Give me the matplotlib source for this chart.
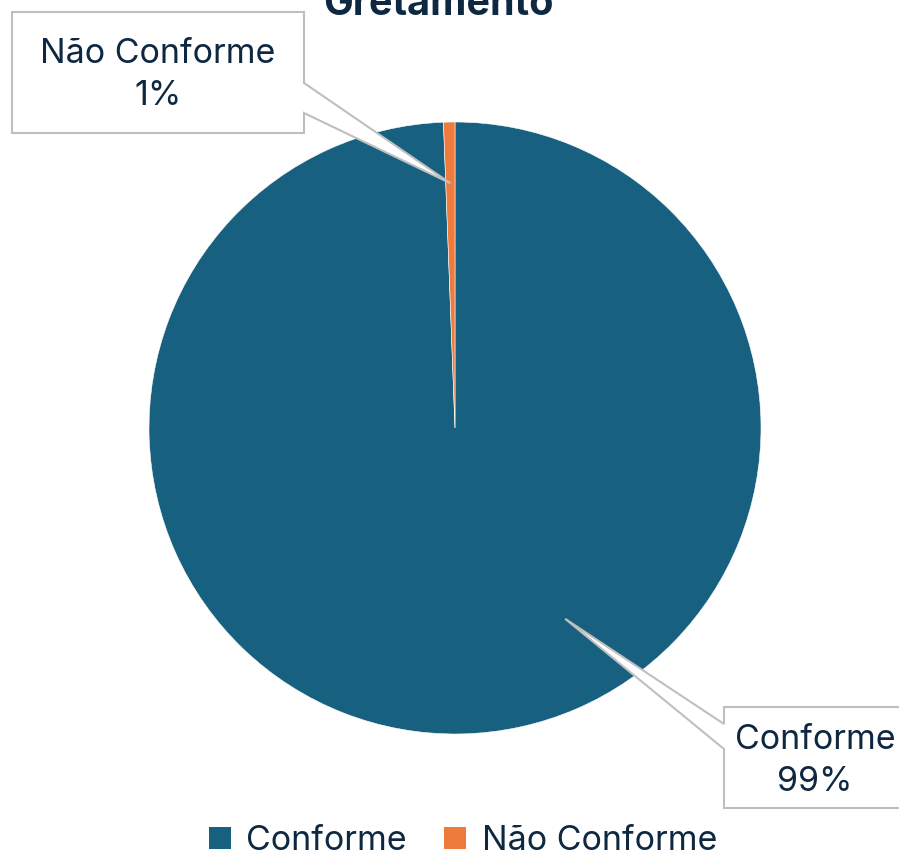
import numpy as np
import matplotlib.pyplot as plt
from matplotlib.patches import Polygon, Patch

categorias = ['Conforme', 'Não Conforme']
valores = [99.4, 0.6]
cores = ['#17607F', '#EE7A3C']
titulo = 'Gretamento'
cor_texto = '#0E2841'

W, H = 899, 858
fig = plt.figure(figsize=(W / 100, H / 100), dpi=100)
ax = fig.add_axes([0, 0, 1, 1])
ax.set_xlim(0, W)
ax.set_ylim(0, H)
ax.set_aspect('equal')
ax.axis('off')
plt.rcParams['font.family'] = ['Inter', 'DejaVu Sans']

cx, cy, r = 455, H - 428, 306
wedges, _ = ax.pie(valores, colors=cores, startangle=90, counterclock=False,
                   center=(cx, cy), radius=r, frame=True,
                   wedgeprops=dict(edgecolor='white', linewidth=0.4))
ax.set_xlim(0, W)
ax.set_ylim(0, H)
ax.axis('off')

total = sum(valores)
pct = [f'{round(v / total * 100)}%' for v in valores]

def ponta(w, frac, ang=None):
    if ang is None:
        ang = (w.theta1 + w.theta2) / 2
    a = np.deg2rad(ang)
    return cx + frac * r * np.cos(a), cy + frac * r * np.sin(a)

def callout(pts, tx, ty, texto):
    pts = [(x, H - y) for x, y in pts]
    ax.add_patch(Polygon(pts, closed=True, facecolor='white', edgecolor='#BFBFBF',
                         linewidth=1.5, zorder=5, clip_on=False))
    ax.text(tx, H - ty, texto, ha='center', va='center', fontsize=24.5,
            color=cor_texto, zorder=6, linespacing=1.4)

# Não Conforme
tx, ty = ponta(wedges[1], 0.8)
callout([(12, 12), (304, 12), (304, 83), (tx, H - ty), (304, 113), (304, 133), (12, 133)],
        158, 75, f'{categorias[1]}\n{pct[1]}')

# Conforme
tx, ty = ponta(wedges[0], 0.72, ang=-60)
callout([(724, 707), (905, 707), (905, 808), (724, 808), (724, 749), (tx, H - ty), (724, 724)],
        815, 761, f'{categorias[0]}\n{pct[0]}')

ax.text(438, H - 15, titulo, ha='center', va='baseline', fontsize=28.5,
        fontweight='bold', color=cor_texto)

handles = [Patch(facecolor=c, edgecolor='none') for c in cores]
leg = fig.legend(handles, categorias, loc='center', bbox_to_anchor=(463 / W, 1 - 841 / H),
                 ncol=2, frameon=False, fontsize=24.5, handlelength=0.65, handleheight=0.65,
                 handletextpad=0.45, columnspacing=1.1, borderpad=0.2)
for t in leg.get_texts():
    t.set_color(cor_texto)

fig.savefig('out.png', dpi=100)
